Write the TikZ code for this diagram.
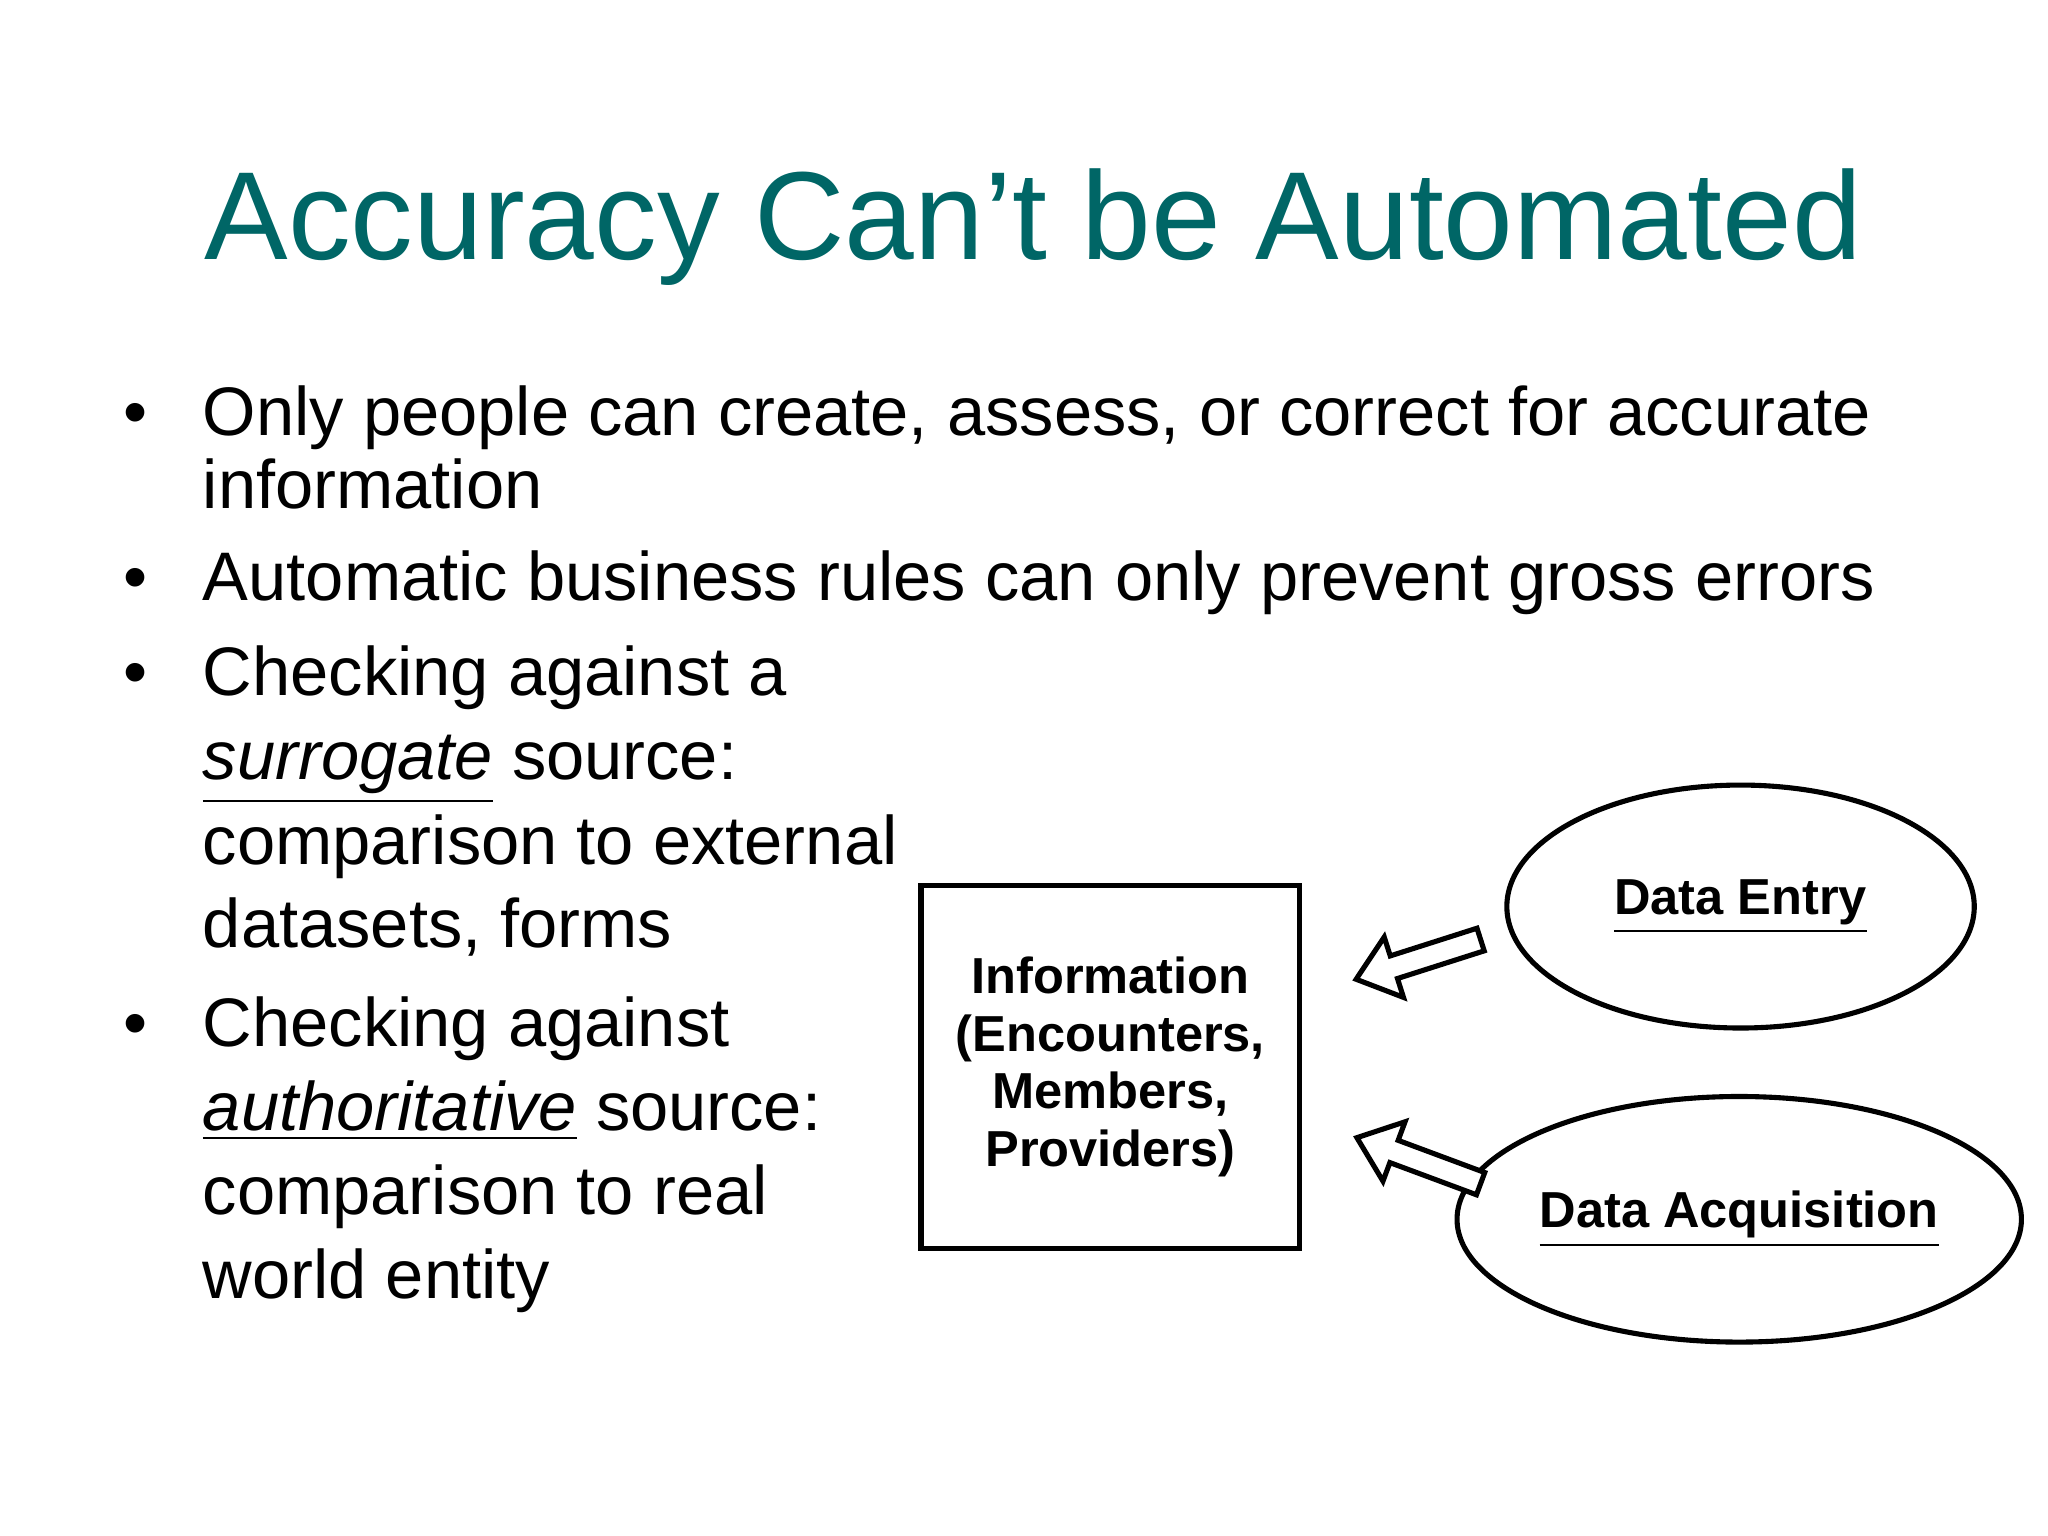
\documentclass[tikz,border=0pt]{standalone}
\usepackage{fontspec}
\usetikzlibrary{shapes.geometric}
\setmainfont{Liberation Sans}
\definecolor{teal}{HTML}{006666}
\begin{document}
\begin{tikzpicture}[x=0.01cm,y=0.01cm,
  line/.style={anchor=base west,inner sep=0pt,font=\fontsize{14.8}{16}\selectfont},
  bul/.style={anchor=base,inner sep=0pt,font=\fontsize{14.8}{16}\selectfont},
  lbl/.style={font=\bfseries\fontsize{10.9}{12.4}\selectfont,align=center},
  blockarrow/.style={draw,line width=1.1pt,fill=white}]
\useasboundingbox (0,0) rectangle (1552,1164);
\node[anchor=base,inner sep=0pt,text=teal,font=\fontsize{27}{30}\selectfont] (title) at (783,967) {Accuracy Can’t be Automated};
\node[bul] (b1) at (103,834) {•};
\node[line] (l1) at (153,834) {Only people can create, assess, or correct for accurate};
\node[line] (l2) at (153,779) {information};
\node[bul] (b2) at (103,709) {•};
\node[line] (l3) at (153,709) {Automatic business rules can only prevent gross errors};
\node[bul] (b3) at (103,637) {•};
\node[line] (l4) at (153,637) {Checking against a};
\node[line] (l5) at (153,573) {\underline{\itshape surrogate} source:};
\node[line] (l6) at (153,509) {comparison to external};
\node[line] (l7) at (153,446) {datasets, forms};
\node[bul] (b4) at (103,371) {•};
\node[line] (l8) at (153,371) {Checking against};
\node[line] (l9) at (153,307) {\underline{\itshape authoritative} source:};
\node[line] (l10) at (153,244) {comparison to real};
\node[line] (l11) at (153,180) {world entity};
\node[draw,line width=1.1pt,minimum width=2.87cm,minimum height=2.75cm,lbl] (info) at (841.5,355.5) {Information\\(Encounters,\\Members,\\Providers)};
\node[draw,ellipse,line width=1.1pt,minimum width=3.54cm,minimum height=1.84cm,inner sep=0pt,lbl] (de) at (1319,477) {\underline{Data Entry}};
\node[draw,ellipse,line width=1.1pt,minimum width=3.56cm,minimum height=1.86cm,inner sep=0pt,lbl] (da) at (1318,240) {\underline{Data Acquisition}};
\coordinate (t1) at (1122,452);
\coordinate (t2) at (1122,267);
\begin{scope}[shift={(t1)},rotate=197.7]
\draw[blockarrow] (0,-9) -- (69,-9) -- (69,-24) -- (99,0) -- (69,24) -- (69,9) -- (0,9) -- cycle;
\end{scope}
\begin{scope}[shift={(t2)},rotate=159.6]
\draw[blockarrow] (0,-9) -- (70,-9) -- (70,-24) -- (100,0) -- (70,24) -- (70,9) -- (0,9) -- cycle;
\end{scope}
\end{tikzpicture}
\end{document}
